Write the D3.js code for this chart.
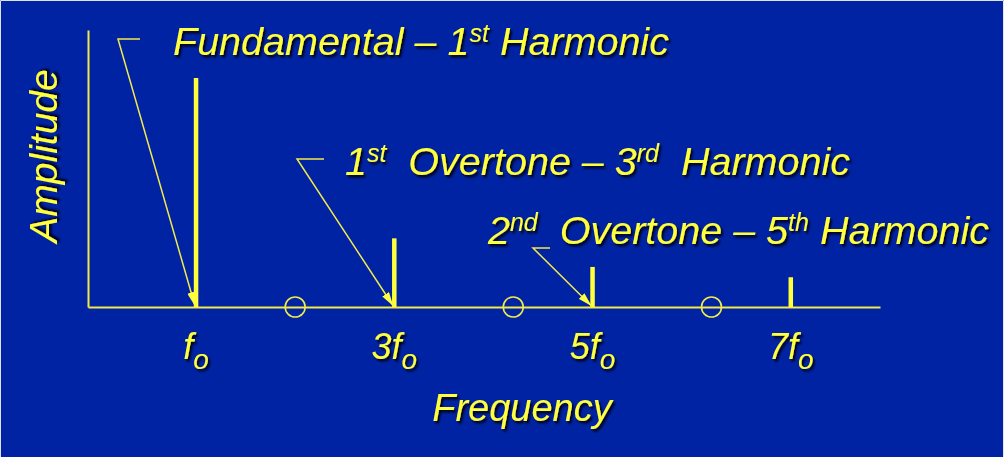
<!DOCTYPE html>
<html>
<head>
<meta charset="utf-8">
<script src="https://cdn.jsdelivr.net/npm/d3@7"></script>
<style>
  html, body { margin: 0; padding: 0; background: #0023a3; }
  svg { display: block; }
  text { font-family: "Liberation Sans", Arial, sans-serif; font-style: italic; fill: #ffff3c; }
</style>
</head>
<body>
<svg id="chart" width="1004" height="457"></svg>
<script>
// Harmonic spectrum of a square-ish wave: odd harmonics only
const harmonics = [1, 3, 5, 7];
const amplitudes = [1.0, 0.30, 0.175, 0.13];
const tickMain = ["f", "3f", "5f", "7f"];
const tickSub = "o";
// missing even harmonics, marked with open circles
const evenNodes = [2, 4.2, 6.2];

// callout labels: [before-sup, sup, middle, sup, after]
const calloutHarmonic = [1, 3, 5];
const calloutParts = [
  ["Fundamental \u2013 1", "st", " Harmonic", "", ""],
  ["1", "st", "  Overtone \u2013 3", "rd", "  Harmonic"],
  ["2", "nd", "  Overtone \u2013 5", "th", " Harmonic"]
];

const W = 1004, H = 457;
const svg = d3.select("#chart");
const yellow = "#ffff3c";
const lineYellow = "#f2ea4a";

// text drop shadow
const defs = svg.append("defs");
const f = defs.append("filter").attr("id", "shadow")
  .attr("x", "-10%").attr("y", "-20%").attr("width", "130%").attr("height", "150%");
f.append("feDropShadow").attr("dx", 2).attr("dy", 2.5).attr("stdDeviation", 1.2)
  .attr("flood-color", "#000018").attr("flood-opacity", 0.95);

defs.append("marker").attr("id", "arrow")
  .attr("viewBox", "0 0 14 8").attr("refX", 14).attr("refY", 4)
  .attr("markerWidth", 14).attr("markerHeight", 8)
  .attr("markerUnits", "userSpaceOnUse").attr("orient", "auto")
  .append("path").attr("d", "M0,0 L14,4 L0,8 Z").attr("fill", yellow);

// background and thin frame
svg.append("rect").attr("width", W).attr("height", H).attr("fill", "#0023a3");
svg.append("path").attr("d", `M0.5,${H} V0.5 H${W - 0.5} V${H}`)
  .attr("fill", "none").attr("stroke", "#dfe3ee").attr("stroke-width", 1);

const x = d3.scaleLinear().domain([-0.09, 7.9]).range([88, 880]);
const y = d3.scaleLinear().domain([0, 1.21]).range([307, 30]);

// axes: plain lines, no ticks
const xAxis = svg.append("g").attr("transform", `translate(0,${y(0)})`)
  .call(d3.axisBottom(x).tickValues([]).tickSizeOuter(0));
const yAxis = svg.append("g").attr("transform", `translate(${x(-0.09)},0)`)
  .call(d3.axisLeft(y).tickValues([]).tickSizeOuter(0));
[xAxis, yAxis].forEach(g => g.select(".domain").attr("stroke", lineYellow).attr("stroke-width", 2));

// even-harmonic circles
svg.selectAll("circle.node").data(evenNodes).join("circle")
  .attr("class", "node")
  .attr("cx", d => x(d)).attr("cy", y(0)).attr("r", 10)
  .attr("fill", "none").attr("stroke", lineYellow).attr("stroke-width", 1.6);

// spectral lines
svg.selectAll("line.bar").data(harmonics).join("line")
  .attr("class", "bar")
  .attr("x1", d => x(d)).attr("x2", d => x(d))
  .attr("y1", y(0)).attr("y2", (d, i) => y(amplitudes[i]))
  .attr("stroke", yellow).attr("stroke-width", 4.5);

// tick labels f_o, 3f_o ...
const ticks = svg.append("g").attr("filter", "url(#shadow)");
harmonics.forEach((h, i) => {
  const t = ticks.append("text").attr("x", x(h)).attr("y", 359)
    .attr("text-anchor", "middle").attr("font-size", 36);
  t.append("tspan").text(tickMain[i]);
  t.append("tspan").attr("font-size", 28).attr("dy", 10).text(tickSub);
});

// axis titles
svg.append("text").attr("filter", "url(#shadow)")
  .attr("x", 522).attr("y", 421).attr("text-anchor", "middle")
  .attr("font-size", 38).text("Frequency");
svg.append("text").attr("filter", "url(#shadow)")
  .attr("transform", "translate(57,156) rotate(-90)").attr("text-anchor", "middle")
  .attr("font-size", 39).text("Amplitude");

// callouts: elbow leader + arrow to each harmonic's base
const calloutText = [[173, 55], [345, 175], [488, 244]];
const elbows = [[140, 118, 39], [324, 297, 159], [550, 533, 248]];
calloutParts.forEach((parts, i) => {
  const [xa, xb, ye] = elbows[i];
  const h = calloutHarmonic[i];
  svg.append("path")
    .attr("d", `M${xa},${ye} H${xb} L${x(h) - 1},${y(0) - 1}`)
    .attr("fill", "none").attr("stroke", lineYellow).attr("stroke-width", 1.5)
    .attr("marker-end", "url(#arrow)");

  const t = svg.append("text").attr("filter", "url(#shadow)")
    .attr("x", calloutText[i][0]).attr("y", calloutText[i][1])
    .attr("font-size", 39.5).attr("xml:space", "preserve").style("white-space", "pre");
  t.append("tspan").text(parts[0]);
  t.append("tspan").attr("font-size", 25).attr("dy", -13).text(parts[1]);
  t.append("tspan").attr("dy", 13).text(parts[2]);
  if (parts[3]) {
    t.append("tspan").attr("font-size", 25).attr("dy", -13).text(parts[3]);
    t.append("tspan").attr("dy", 13).text(parts[4]);
  }
});
</script>
</body>
</html>
